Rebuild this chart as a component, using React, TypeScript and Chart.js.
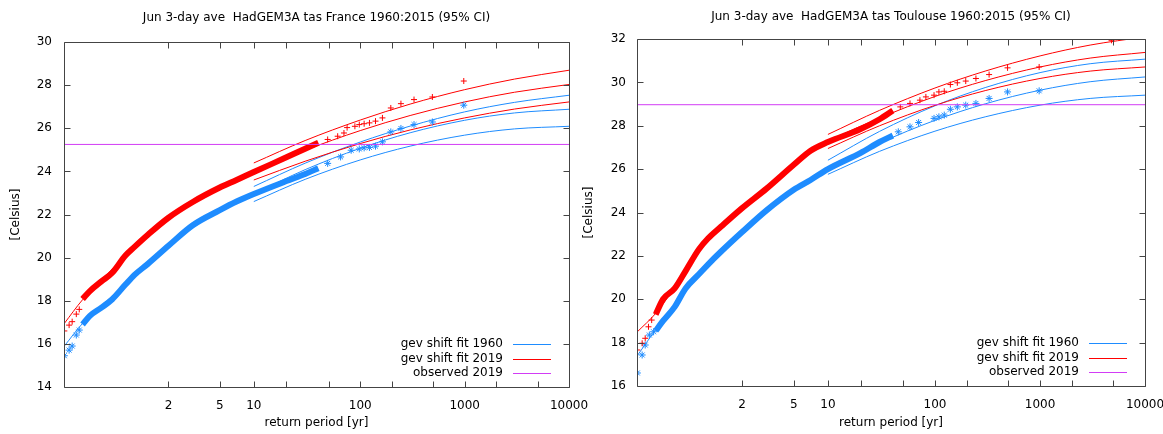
import React, { useEffect, useRef } from 'react';
import { Chart, registerables } from 'chart.js';

Chart.register(...registerables);

// ---------------- shared axis / legend text ----------------
const xTickPeriods = [2, 5, 10, 20, 50, 100, 200, 500, 1000, 2000, 5000, 10000];
const xTickLabels = ['2', '5', '10', '', '', '100', '', '', '1000', '', '', '10000'];
const periodRange = [1.00095, 10000];
const legendLabels = ['gev shift fit 1960', 'gev shift fit 2019', 'observed 2019'];
const xTitle = 'return period [yr]';
const yTitle = '[Celsius]';
const franceTitle = 'Jun 3-day ave  HadGEM3A tas France 1960:2015 (95% CI)';
const toulouseTitle = 'Jun 3-day ave  HadGEM3A tas Toulouse 1960:2015 (95% CI)';
const franceYRange = [14, 30];
const toulouseYRange = [16, 32];

// return periods shared by several series
const bandT = [1.01, 1.02, 1.05, 1.1, 1.2, 1.3, 1.5, 2, 3, 5, 7, 10, 20, 30, 40];
const fitT = [1.001, 1.01, 1.05, 1.2, 1.5, 2, 5, 10, 30, 100, 300, 1000, 3000, 10000];
const ciT = [10, 30, 100, 300, 1000, 3000, 10000];

// ---------------- France ----------------
const franceObserved = 25.25;
const franceRedLowT = [1.001, 1.002, 1.003, 1.005, 1.007];
const franceRedLow = [16.6, 16.87, 17.03, 17.38, 17.6];
const franceBlueLowT = [1.001, 1.002, 1.003, 1.005, 1.007];
const franceBlueLow = [15.45, 15.71, 15.9, 16.41, 16.64];
const franceRedBand = [18.08, 18.45, 18.9, 19.3, 20.1, 20.5, 21.05, 21.85, 22.58, 23.25, 23.6, 23.97, 24.65, 25.05, 25.33];
const franceBlueBand = [16.9, 17.3, 17.68, 18.07, 18.75, 19.2, 19.7, 20.55, 21.5, 22.2, 22.6, 22.95, 23.55, 23.88, 24.15];
const franceRedTailT = [980, 490, 327, 245, 196, 163, 140, 122.5, 109, 98, 89, 75, 70, 61, 49];
const franceRedTail = [28.19, 27.45, 27.33, 27.14, 26.94, 26.48, 26.33, 26.25, 26.21, 26.17, 26.09, 26.03, 25.78, 25.63, 25.48];
const franceBlueTailT = [980, 490, 327, 245, 196, 163, 140, 122.5, 109, 98, 82, 65, 49];
const franceBlueTail = [27.07, 26.29, 26.17, 25.99, 25.83, 25.37, 25.17, 25.11, 25.09, 25.04, 24.98, 24.67, 24.37];
const franceRedFit = [16.95, 18.05, 18.95, 20.1, 21.05, 21.85, 23.25, 24.0, 24.98, 25.89, 26.59, 27.22, 27.67, 28.03];
const franceBlueFit = [15.9, 16.95, 17.75, 18.8, 19.75, 20.55, 22.2, 22.95, 24.08, 25.07, 25.79, 26.37, 26.71, 26.88];
const franceRedUpper = [24.39, 25.43, 26.38, 27.12, 27.79, 28.28, 28.69];
const franceRedLower = [23.6, 24.47, 25.29, 25.92, 26.48, 26.89, 27.22];
const franceBlueUpper = [23.3, 24.38, 25.36, 26.1, 26.76, 27.2, 27.53];
const franceBlueLower = [22.6, 23.63, 24.53, 25.17, 25.68, 25.97, 26.09];

// ---------------- Toulouse ----------------
const toulouseObserved = 28.97;
const toulouseRedLowT = [1.001, 1.002, 1.003, 1.0045, 1.0065];
const toulouseRedLow = [17.66, 17.97, 18.2, 18.73, 19.04];
const toulouseBlueLowT = [1.001, 1.002, 1.003, 1.005, 1.008];
const toulouseBlueLow = [16.6, 17.43, 17.89, 18.35, 18.5];
const toulouseRedBand = [19.3, 20.0, 20.5, 21.3, 22.3, 22.8, 23.35, 24.2, 25.1, 26.2, 26.85, 27.25, 27.85, 28.3, 28.7];
const toulouseBlueBand = [18.55, 19.0, 19.65, 20.5, 21.15, 21.6, 22.2, 23.1, 24.1, 25.05, 25.5, 26.0, 26.75, 27.25, 27.55];
const toulouseRedTailT = [4800, 980, 490, 327, 245, 196, 163, 140, 122.5, 109, 98, 82, 72, 58, 47];
const toulouseRedTail = [31.94, 30.71, 30.67, 30.36, 30.18, 30.06, 29.98, 29.9, 29.59, 29.56, 29.41, 29.33, 29.18, 29.03, 28.87];
const toulouseBlueTailT = [980, 490, 327, 245, 196, 163, 140, 122.5, 109, 98, 70, 58, 45];
const toulouseBlueTail = [29.61, 29.56, 29.26, 29.03, 28.95, 28.87, 28.76, 28.49, 28.41, 28.34, 28.15, 27.95, 27.72];
const toulouseRedFit = [18.5, 19.35, 20.55, 22.3, 23.35, 24.2, 26.2, 27.25, 28.35, 29.35, 30.08, 30.71, 31.12, 31.38];
const toulouseBlueFit = [17.4, 18.6, 19.75, 21.15, 22.2, 23.1, 25.05, 26.03, 27.2, 28.25, 29.01, 29.64, 30.03, 30.25];
const toulouseRedUpper = [27.6, 28.71, 29.74, 30.52, 31.22, 31.72, 32.1];
const toulouseRedLower = [26.95, 28.0, 28.94, 29.62, 30.18, 30.52, 30.71];
const toulouseBlueUpper = [26.41, 27.74, 28.92, 29.76, 30.45, 30.86, 31.07];
const toulouseBlueLower = [25.76, 26.82, 27.75, 28.41, 28.95, 29.26, 29.41];

// ---------------- styling ----------------
const BLUE = '#1e8cff';
const RED = '#ff0000';
const MAGENTA = '#d23cf5';
const FRAME = '#444444';
const TEXT = '#000000';
const FONT_FAMILY = '"DejaVu Sans", sans-serif';

// Gumbel reduced variate: the probability scale used for return periods
const gumbel = (T: number) => -Math.log(-Math.log(1 - 1 / T));
const pts = (Ts: number[], vs: number[]) => Ts.map((T, i) => ({ x: gumbel(T), y: vs[i] }));

const decorPlugin = {
  id: 'decor',
  afterDraw(chart: any, _args: any, opts: any) {
    const { ctx, chartArea: a, scales } = chart;
    ctx.save();
    ctx.strokeStyle = FRAME;
    ctx.lineWidth = 1;
    const L = Math.round(a.left) + 0.5;
    const R = Math.round(a.right) + 0.5;
    const T = Math.round(a.top) + 0.5;
    const B = Math.round(a.bottom) + 0.5;
    ctx.beginPath();
    ctx.rect(L, T, R - L, B - T);
    for (const p of xTickPeriods) {
      const x = Math.round(scales.x.getPixelForValue(gumbel(p))) + 0.5;
      ctx.moveTo(x, B); ctx.lineTo(x, B - 6);
      ctx.moveTo(x, T); ctx.lineTo(x, T + 6);
    }
    for (const t of scales.y.ticks) {
      const y = Math.round(scales.y.getPixelForValue(t.value)) + 0.5;
      ctx.moveTo(L, y); ctx.lineTo(L + 6, y);
      ctx.moveTo(R, y); ctx.lineTo(R - 6, y);
    }
    ctx.stroke();

    ctx.fillStyle = TEXT;
    ctx.font = `12px ${FONT_FAMILY}`;
    ctx.textBaseline = 'middle';
    ctx.textAlign = 'center';
    ctx.fillText(opts.title, (a.left + a.right) / 2, opts.titleY);

    const colors = [BLUE, RED, MAGENTA];
    const rows = [43, 28, 14];
    ctx.textAlign = 'right';
    legendLabels.forEach((lab, i) => {
      const y = a.bottom - rows[i];
      ctx.fillStyle = TEXT;
      ctx.fillText(lab, a.right - 66, y);
      ctx.strokeStyle = colors[i];
      ctx.lineWidth = 1;
      ctx.beginPath();
      const yy = Math.round(y) + 0.5;
      ctx.moveTo(a.right - 56, yy);
      ctx.lineTo(a.right - 18, yy);
      ctx.stroke();
    });
    ctx.restore();
  },
};

type Panel = {
  title: string;
  titleY: number;
  yRange: number[];
  observed: number;
  redLowT: number[]; redLow: number[];
  blueLowT: number[]; blueLow: number[];
  redBand: number[]; blueBand: number[];
  redTailT: number[]; redTail: number[];
  blueTailT: number[]; blueTail: number[];
  redFit: number[]; blueFit: number[];
  redUpper: number[]; redLower: number[];
  blueUpper: number[]; blueLower: number[];
  yWidth: number; top: number; padRight: number; xHeight: number;
  yLabelPad: number; yTitlePad: number;
};

const francePanel: Panel = {
  title: franceTitle, titleY: 18, yRange: franceYRange, observed: franceObserved,
  redLowT: franceRedLowT, redLow: franceRedLow, blueLowT: franceBlueLowT, blueLow: franceBlueLow,
  redBand: franceRedBand, blueBand: franceBlueBand,
  redTailT: franceRedTailT, redTail: franceRedTail, blueTailT: franceBlueTailT, blueTail: franceBlueTail,
  redFit: franceRedFit, blueFit: franceBlueFit,
  redUpper: franceRedUpper, redLower: franceRedLower, blueUpper: franceBlueUpper, blueLower: franceBlueLower,
  yWidth: 64, top: 42, padRight: 31, xHeight: 47, yLabelPad: 12, yTitlePad: 9,
};

const toulousePanel: Panel = {
  title: toulouseTitle, titleY: 17, yRange: toulouseYRange, observed: toulouseObserved,
  redLowT: toulouseRedLowT, redLow: toulouseRedLow, blueLowT: toulouseBlueLowT, blueLow: toulouseBlueLow,
  redBand: toulouseRedBand, blueBand: toulouseBlueBand,
  redTailT: toulouseRedTailT, redTail: toulouseRedTail, blueTailT: toulouseBlueTailT, blueTail: toulouseBlueTail,
  redFit: toulouseRedFit, blueFit: toulouseBlueFit,
  redUpper: toulouseRedUpper, redLower: toulouseRedLower, blueUpper: toulouseBlueUpper, blueLower: toulouseBlueLower,
  yWidth: 62, top: 39, padRight: 18, xHeight: 48, yLabelPad: 11, yTitlePad: 7,
};

function makeChart(canvas: HTMLCanvasElement, p: Panel) {
  const gMin = gumbel(periodRange[0]);
  const gMax = gumbel(periodRange[1]);
  const thin = (data: any[], color: string) => ({
    data, borderColor: color, borderWidth: 1, pointRadius: 0, showLine: true,
    cubicInterpolationMode: 'monotone', fill: false, clip: 0,
  });
  const datasets: any[] = [
    { data: [{ x: gMin, y: p.observed }, { x: gMax, y: p.observed }], borderColor: MAGENTA, borderWidth: 1, pointRadius: 0, showLine: true, clip: 0 },
    {
      data: [...pts(p.redLowT, p.redLow), ...pts(p.redTailT, p.redTail)], showLine: false,
      pointStyle: 'cross', pointRadius: 3, borderColor: RED, backgroundColor: RED, pointBorderWidth: 1, clip: 0,
    },
    {
      data: [...pts(p.blueLowT, p.blueLow), ...pts(p.blueTailT, p.blueTail)], showLine: false,
      pointStyle: 'star', pointRadius: 3.5, borderColor: BLUE, backgroundColor: BLUE, pointBorderWidth: 1, clip: 0,
    },
    { data: pts(bandT, p.redBand), borderColor: RED, borderWidth: 6, pointRadius: 0, showLine: true, borderJoinStyle: 'round', cubicInterpolationMode: 'monotone', clip: 0 },
    { data: pts(bandT, p.blueBand), borderColor: BLUE, borderWidth: 6, pointRadius: 0, showLine: true, borderJoinStyle: 'round', cubicInterpolationMode: 'monotone', clip: 0 },
    thin(pts(fitT, p.redFit), RED),
    thin(pts(fitT, p.blueFit), BLUE),
    thin(pts(ciT, p.redUpper), RED),
    thin(pts(ciT, p.redLower), RED),
    thin(pts(ciT, p.blueUpper), BLUE),
    thin(pts(ciT, p.blueLower), BLUE),
  ];
  const font = { family: FONT_FAMILY, size: 12 };
  return new Chart(canvas, {
    type: 'line',
    data: { datasets },
    plugins: [decorPlugin],
    options: {
      animation: false,
      responsive: false,
      maintainAspectRatio: false,
      layout: { padding: { left: 0, top: p.top, right: p.padRight, bottom: 0 } },
      plugins: {
        legend: { display: false },
        tooltip: { enabled: false },
        title: { display: false },
        decor: { title: p.title, titleY: p.titleY },
      } as any,
      scales: {
        x: {
          type: 'linear',
          min: gMin,
          max: gMax,
          afterBuildTicks: (s: any) => { s.ticks = xTickPeriods.map((T) => ({ value: gumbel(T) })); },
          afterFit: (s: any) => { s.height = p.xHeight; s.paddingLeft = 0; s.paddingRight = 0; },
          grid: { display: false, drawTicks: false },
          border: { display: false },
          ticks: {
            autoSkip: false, maxRotation: 0, minRotation: 0, padding: 12, color: TEXT, font,
            callback: (_v: any, i: number) => xTickLabels[i],
          },
          title: { display: true, text: xTitle, color: TEXT, font, padding: { top: 0, bottom: 4 } },
        },
        y: {
          type: 'linear',
          min: p.yRange[0],
          max: p.yRange[1],
          afterFit: (s: any) => { s.width = p.yWidth; s.paddingTop = 0; s.paddingBottom = 0; },
          grid: { display: false, drawTicks: false },
          border: { display: false },
          ticks: { stepSize: 2, padding: p.yLabelPad, color: TEXT, font },
          title: { display: true, text: yTitle, color: TEXT, font, padding: { top: p.yTitlePad, bottom: 0 } },
        },
      },
    } as any,
  });
}

export default function App() {
  const leftRef = useRef<HTMLCanvasElement>(null);
  const rightRef = useRef<HTMLCanvasElement>(null);
  useEffect(() => {
    const c1 = makeChart(leftRef.current!, francePanel);
    const c2 = makeChart(rightRef.current!, toulousePanel);
    return () => { c1.destroy(); c2.destroy(); };
  }, []);
  return (
    <div style={{ position: 'fixed', left: 0, top: 0, width: 1163, height: 434, background: '#ffffff', overflow: 'hidden' }}>
      <canvas ref={leftRef} width={600} height={434} style={{ position: 'absolute', left: 0, top: 0, width: 600, height: 434 }} />
      <canvas ref={rightRef} width={588} height={434} style={{ position: 'absolute', left: 575, top: 0, width: 588, height: 434 }} />
    </div>
  );
}
